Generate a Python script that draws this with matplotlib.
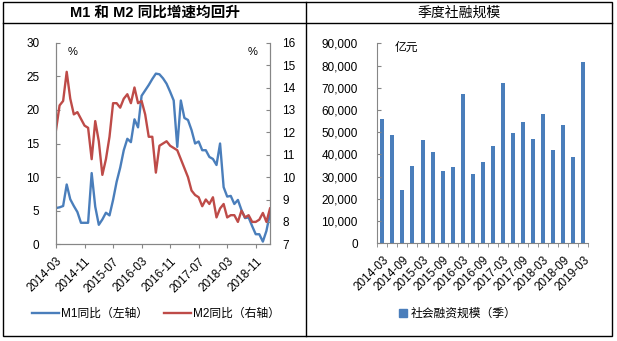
import matplotlib.pyplot as plt
import numpy as np
from matplotlib.lines import Line2D
from matplotlib.patches import Patch, Rectangle
from matplotlib.ticker import FuncFormatter

# M1 / M2 year-on-year growth (%), monthly 2014-03 .. 2019-03
m1 = [5.4, 5.5, 5.7, 8.9, 6.7, 5.7, 4.8, 3.2, 3.2, 3.2,
      10.6, 5.6, 2.9, 3.7, 4.7, 4.3, 6.6, 9.3, 11.4, 14.0, 15.7, 15.2,
      18.6, 17.4, 22.1, 22.9, 23.7, 24.6, 25.4, 25.3, 24.7, 23.9, 22.7, 21.4,
      14.5, 21.4, 18.8, 18.5, 17.0, 15.0, 15.3, 14.0, 14.0, 13.0, 12.7, 11.8,
      15.0, 8.5, 7.1, 7.2, 6.0, 6.6, 5.1, 3.9, 4.0, 2.7, 1.5, 1.5,
      0.4, 2.0, 4.6]
m2 = [12.1, 13.2, 13.4, 14.7, 13.5, 12.8, 12.9, 12.6, 12.3, 12.2,
      10.8, 12.5, 11.6, 10.1, 10.8, 11.8, 13.3, 13.3, 13.1, 13.5, 13.7, 13.3,
      14.0, 13.3, 13.4, 12.8, 11.8, 11.8, 10.2, 11.4, 11.5, 11.6, 11.4, 11.3,
      11.2, 10.8, 10.4, 10.0, 9.4, 9.2, 9.1, 8.7, 9.0, 8.8, 9.1, 8.2,
      8.6, 8.8, 8.2, 8.3, 8.3, 8.0, 8.5, 8.2, 8.3, 8.0, 8.0, 8.1,
      8.4, 8.0, 8.6]
month_ticks = ['2014-03', '2014-11', '2015-07', '2016-03',
               '2016-11', '2017-07', '2018-03', '2018-11']

# quarterly total social financing (100 million yuan), 2014-03 .. 2019-03
quarters = ['2014-03', '2014-06', '2014-09', '2014-12', '2015-03', '2015-06',
            '2015-09', '2015-12', '2016-03', '2016-06', '2016-09', '2016-12',
            '2017-03', '2017-06', '2017-09', '2017-12', '2018-03', '2018-06',
            '2018-09', '2018-12', '2019-03']
tsf = [56000, 48900, 23800, 34900, 46600, 41300, 32500, 34300, 67000, 31000,
       36500, 43600, 72300, 49800, 54800, 47100, 58400, 42200, 53300, 38700,
       81700]

BLUE = '#4a7ebb'
RED = '#be4b48'
GREY = '#868686'

plt.rcParams['font.family'] = ['Liberation Sans', 'Noto Sans CJK SC']
plt.rcParams['font.size'] = 8.5

W, H = 617, 341
fig = plt.figure(figsize=(W / 100, H / 100), dpi=100)


def box(x0, y0, x1, y1):
    return [x0 / W, 1 - y1 / H, (x1 - x0) / W, (y1 - y0) / H]


# ---- left: M1 / M2 lines ----
ax = fig.add_axes(box(56, 42.7, 270, 244.3))
ax2 = ax.twinx()
x = np.arange(len(m1))
l1, = ax.plot(x, m1, color=BLUE, lw=1.7, label='M1同比（左轴）')
l2, = ax2.plot(x, m2, color=RED, lw=1.7, label='M2同比（右轴）')
ax.set_xlim(0, len(m1) - 1)
ax.set_ylim(0, 30)
ax.set_yticks(range(0, 31, 5))
ax2.set_ylim(7, 16)
ax2.set_yticks(range(7, 17))
ax.set_xticks(x[::8])
ax.set_xticklabels(month_ticks, rotation=45, ha='right', rotation_mode='anchor')

for a in (ax, ax2):
    a.patch.set_visible(False)
    a.spines['top'].set_visible(False)
    for s in ('left', 'right', 'bottom'):
        a.spines[s].set_color(GREY)
ax.tick_params(axis='y', direction='in', length=3, pad=12, color=GREY)
ax2.tick_params(axis='y', direction='in', length=3, pad=9, color=GREY)
ax.tick_params(axis='x', direction='out', length=3, pad=5, color=GREY)

fig.text(73 / W, 1 - 52 / H, '%', ha='center', va='center', fontsize=8)
fig.text(253 / W, 1 - 52 / H, '%', ha='center', va='center', fontsize=8)

fig.legend(handles=[l1, l2], loc='center', bbox_to_anchor=(156 / W, 1 - 314 / H),
           ncol=2, frameon=False, handlelength=2.3, handletextpad=0.2,
           columnspacing=1.3, fontsize=8.5)

# ---- right: quarterly social financing bars ----
ax3 = fig.add_axes(box(377.3, 43.3, 588.3, 243.3))
pos = np.arange(len(tsf))
ax3.bar(pos, tsf, width=0.4, color=BLUE)
ax3.set_xlim(-0.5, len(tsf) - 0.5)
ax3.set_ylim(0, 90000)
ax3.set_yticks(range(0, 90001, 10000))
ax3.yaxis.set_major_formatter(FuncFormatter(lambda v, _: f'{int(v):,}'))
ax3.set_xticks(pos[::2])
ax3.set_xticklabels(quarters[::2], rotation=45, ha='right', rotation_mode='anchor')
ax3.set_xticks(np.arange(-0.5, len(tsf)), minor=True)
ax3.tick_params(axis='x', which='major', length=0, pad=8)
ax3.tick_params(axis='x', which='minor', direction='out', length=3, color=GREY)
ax3.tick_params(axis='y', direction='in', length=3, pad=14, color=GREY)
for s in ('top', 'right'):
    ax3.spines[s].set_visible(False)
for s in ('left', 'bottom'):
    ax3.spines[s].set_color(GREY)
ax3.patch.set_visible(False)

fig.text(406 / W, 1 - 48 / H, '亿元', ha='center', va='center', fontsize=8.5)

fig.legend(handles=[Patch(color=BLUE, label='社会融资规模（季）')], loc='center',
           bbox_to_anchor=(458 / W, 1 - 314 / H), frameon=False,
           handlelength=0.7, handleheight=0.7, handletextpad=0.3, fontsize=8.5)

# ---- table frame and titles ----
fig.add_artist(Rectangle((3.3 / W, 1 - 335.7 / H), (612.3 - 3.3) / W, (335.7 - 1.7) / H,
                         fill=False, ec='black', lw=1, transform=fig.transFigure))
fig.add_artist(Line2D([3.3 / W, 612.3 / W], [1 - 23.3 / H] * 2, color='black', lw=1,
                      transform=fig.transFigure))
fig.add_artist(Line2D([305.7 / W] * 2, [1 - 1.7 / H, 1 - 335.7 / H], color='black', lw=1,
                      transform=fig.transFigure))
fig.text(154.5 / W, 1 - 13 / H, 'M1 和 M2 同比增速均回升', ha='center', va='center',
         fontsize=10.5, fontweight='bold')
fig.text(459 / W, 1 - 13 / H, '季度社融规模', ha='center', va='center', fontsize=10)

fig.savefig('out.png', dpi=100)
